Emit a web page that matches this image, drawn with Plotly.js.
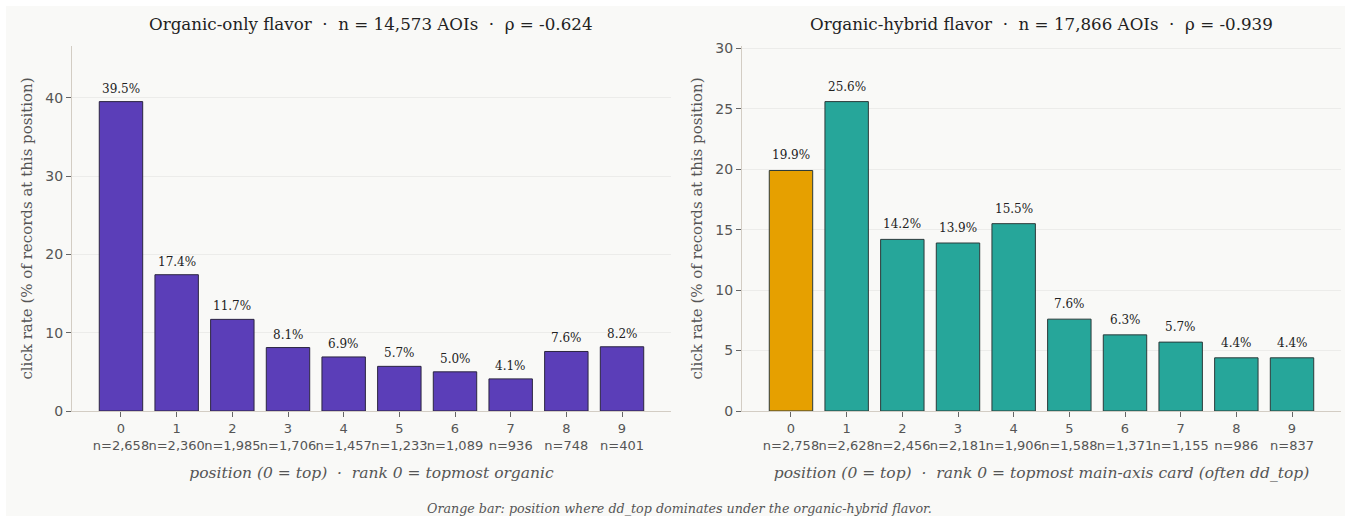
<!DOCTYPE html>
<html>
<head>
<meta charset="utf-8">
<script src="https://cdn.plot.ly/plotly-3.0.1.min.js"></script>
<style>html,body{margin:0;padding:0;background:#fff;}#chart{width:1351px;height:521px;}</style>
</head>
<body>
<div id="chart"></div>
<script>
const positions = [0,1,2,3,4,5,6,7,8,9];
const organicOnlyRate = [39.5,17.4,11.7,8.1,6.9,5.7,5.0,4.1,7.6,8.2];
const organicOnlyN = [2658,2360,1985,1706,1457,1233,1089,936,748,401];
const hybridRate = [19.9,25.6,14.2,13.9,15.5,7.6,6.3,5.7,4.4,4.4];
const hybridN = [2758,2628,2456,2181,1906,1588,1371,1155,986,837];
const leftTitle = "Organic-only flavor  ·  n = 14,573 AOIs  ·  ρ = -0.624";
const rightTitle = "Organic-hybrid flavor  ·  n = 17,866 AOIs  ·  ρ = -0.939";
const leftXTitle = "position (0 = top)  ·  rank 0 = topmost organic";
const rightXTitle = "position (0 = top)  ·  rank 0 = topmost main-axis card (often dd_top)";
const yTitle = "click rate (% of records at this position)";
const caption = "Orange bar: position where dd_top dominates under the organic-hybrid flavor.";

const W = 1351, H = 521;
const serif = "DejaVu Serif, serif";
const sans = "DejaVu Sans, sans-serif";
const fmt = v => v.toFixed(1) + "%";
const tickText = ns => positions.map((p,i) => p + "<br>n=" + ns[i].toLocaleString("en-US"));

const purple = "#5b3eb8", teal = "#26a69a", orange = "#e6a000";

const traces = [
  {type:"bar", x:positions, y:organicOnlyRate, xaxis:"x", yaxis:"y",
   marker:{color:purple, line:{color:"#2b2540", width:1}}, width:0.78, hoverinfo:"skip"},
  {type:"bar", x:positions, y:hybridRate, xaxis:"x2", yaxis:"y2",
   marker:{color:positions.map(p => p===0 ? orange : teal), line:{color:"#2b3a3a", width:1}}, width:0.78, hoverinfo:"skip"}
];

const yBot = (H-411)/H, yTop = (H-46)/H;
const axX = (dom, ns, title, anchor) => ({
  domain:dom, range:[-0.88,9.88], anchor:anchor, tickmode:"array", tickvals:positions, ticktext:tickText(ns),
  tickangle:0, tickfont:{family:sans, size:13, color:"#555"}, ticks:"outside", ticklen:5, tickcolor:"#666",
  showline:true, linecolor:"#d3cdc4", linewidth:1, showgrid:false, zeroline:false,
  title:{text:title, font:{family:serif, size:15.5, color:"#555", style:"italic"}, standoff:15}
});
const axY = (range, dtick, anchor) => ({
  domain:[yBot,yTop], range:range, dtick:dtick, anchor:anchor,
  tickfont:{family:sans, size:14, color:"#555"}, ticks:"outside", ticklen:5, tickcolor:"#666",
  showline:true, linecolor:"#d3cdc4", linewidth:1, showgrid:true, gridcolor:"#ececea", zeroline:false,
  title:{text:yTitle, font:{family:serif, size:15, color:"#555"}, standoff:9}
});

const barLabels = (xs, ys, xr, yr, shift) => xs.map((x,i) => ({
  x:x, y:ys[i], xref:xr, yref:yr, text:fmt(ys[i]), showarrow:false, yanchor:"bottom", yshift:shift,
  font:{family:serif, size:12, color:"#222"}
}));

const layout = {
  width:W, height:H, margin:{l:0,r:0,t:0,b:0},
  paper_bgcolor:"#ffffff", plot_bgcolor:"rgba(0,0,0,0)",
  showlegend:false,
  xaxis: axX([72/W, 671/W], organicOnlyN, leftXTitle, "y"),
  yaxis: axY([0,46.6], 10, "x"),
  xaxis2: axX([742/W, 1341/W], hybridN, rightXTitle, "y2"),
  yaxis2: axY([0,30.2], 5, "x2"),
  shapes:[{type:"rect", xref:"paper", yref:"paper", x0:6/W, x1:1345/W, y0:5/H, y1:1-6/H,
           fillcolor:"#f9f9f7", line:{width:0}, layer:"below"}],
  annotations:[
    {text:leftTitle, xref:"paper", yref:"paper", x:371/W, y:1-24/H, showarrow:false, xanchor:"center", yanchor:"middle",
     font:{family:serif, size:16.7, color:"#222"}},
    {text:rightTitle, xref:"paper", yref:"paper", x:1041/W, y:1-24/H, showarrow:false, xanchor:"center", yanchor:"middle",
     font:{family:serif, size:16.7, color:"#222"}},
    {text:caption, xref:"paper", yref:"paper", x:679/W, y:1-508/H, showarrow:false, xanchor:"center", yanchor:"middle",
     font:{family:serif, size:12.7, color:"#555", style:"italic"}}
  ].concat(barLabels(positions, organicOnlyRate, "x", "y", 4), barLabels(positions, hybridRate, "x2", "y2", 6))
};

Plotly.newPlot("chart", traces, layout, {displayModeBar:false, staticPlot:true});
</script>
</body>
</html>
